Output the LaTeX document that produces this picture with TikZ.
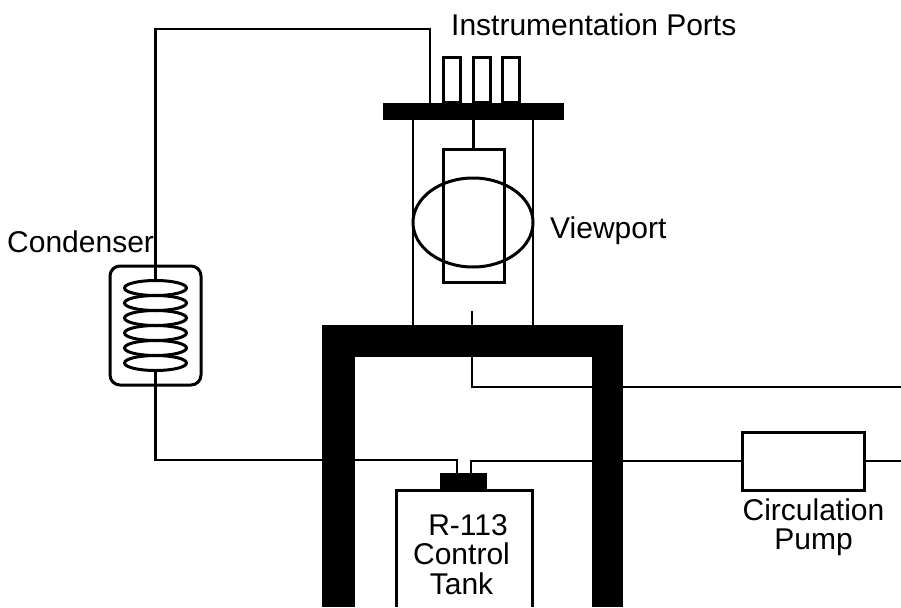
\documentclass[tikz,border=0pt]{standalone}
\usepackage{fontspec}
\setmainfont{Liberation Sans}
\usetikzlibrary{arrows.meta,shapes.geometric}

\tikzset{
  pipe/.style={line width=2.2pt},
  solidbar/.style={fill=black,inner sep=0pt,outer sep=0pt},
  openbox/.style={draw,line width=3pt,inner sep=0pt,outer sep=0pt},
  coil/.style={ellipse,draw,line width=3pt,inner sep=0pt,outer sep=0pt,
    minimum width=62pt,minimum height=15pt},
  caption/.style={font=\fontsize{30}{29.5}\selectfont,align=center,inner sep=0pt}
}

\begin{document}
\begin{tikzpicture}[x=1pt,y=-1pt]
  \useasboundingbox (0,0) rectangle (901,607);

  % hood round the tank
  \node[solidbar,minimum width=301pt,minimum height=32pt] (hood) at (472.5,341) {};
  \node[solidbar,minimum width=33pt,minimum height=250pt] (hoodleft) at (338.5,482) {};
  \node[solidbar,minimum width=31pt,minimum height=250pt] (hoodright) at (607.5,482) {};

  % tank, open at the lower edge
  \coordinate (tankleft) at (396,607);
  \coordinate (tankright) at (532,607);
  \node[solidbar,minimum width=47pt,minimum height=17pt] (tankcap) at (463.5,481.5) {};
  \draw[line width=3pt] (tankleft) |- (tankcap.south) -| (tankright);

  % test section
  \node[solidbar,minimum width=181pt,minimum height=17pt] (plate) at (473.5,111.5) {};
  \draw[pipe] (plate.south -| tankleft) ++(17,0) coordinate (wallleft) -- (wallleft |- hood.north);
  \draw[pipe] (plate.south -| tankright) ++(1,0) coordinate (wallright) -- (wallright |- hood.north);
  \node[openbox,minimum width=61pt,minimum height=133pt] (heater) at (473.5,215.5) {};
  \node[ellipse,draw,line width=3pt,inner sep=0pt,outer sep=0pt,
    minimum width=120pt,minimum height=89pt] (window) at (473,222.5) {};
  \draw[pipe] (plate.south -| heater.north) -- (heater.north);

  % instrumentation ports
  \foreach \port/\portx in {a/451.5,b/481.5,c/511}
    \node[openbox,minimum width=17pt,minimum height=45pt,anchor=south] (port\port) at (\portx,103) {};

  % condenser
  \node[draw,line width=3pt,rounded corners=10pt,inner sep=0pt,outer sep=0pt,
    minimum width=91pt,minimum height=119pt] (condenser) at (155.5,325.5) {};
  \foreach \n/\coily in {1/288,2/303,3/318,4/333,5/348,6/363}
    \node[coil] (coil\n) at (155.5,\coily) {};

  % pipes
  \coordinate (ventcorner) at (430,29);
  \coordinate (feedcorner) at (155,460);
  \coordinate (tapcorner) at (472,387);
  \coordinate (stubtop) at (472,311);
  \coordinate (feedin) at (457,460);
  \coordinate (feedout) at (471,461);
  \coordinate (rightedge) at (901,461);
  \coordinate (tapedge) at (901,387);
  \draw[pipe] (plate.north -| ventcorner) -- (ventcorner) -| (coil1.north);
  \draw[pipe] (coil6.south) -- (coil6.south |- feedcorner) -- (hoodleft.west |- feedcorner);
  \draw[pipe] (hoodleft.east |- feedin) -- (feedin) -- (feedin |- tankcap.north);
  \draw[pipe] (feedout |- tankcap.north) -- (feedout) -- (hoodright.west |- feedout);
  \draw[pipe] (stubtop) -- (stubtop |- hood.north);
  \draw[pipe] (tapcorner |- hood.south) -- (tapcorner) -- (tapedge);

  % pump
  \node[openbox,minimum width=122pt,minimum height=58pt] (pump) at (803,461) {};
  \draw[pipe] (hoodright.east |- pump.west) -- (pump.west);
  \draw[pipe] (pump.east) -- (rightedge);

  % labels
  \node[caption,anchor=base west] (portslabel) at (451,36) {Instrumentation Ports};
  \node[caption,anchor=base west] (viewlabel) at (550,238) {Viewport};
  \node[caption,anchor=base west] (condlabel) at (7,252) {Condenser};
  \node[caption,anchor=base] (pumplabel) at (813.5,549.5) {Circulation\\Pump};
  \node[caption,anchor=base] (tanklabel) at (461.5,594) {\hspace*{13pt}R-113\\Control\\Tank};
\end{tikzpicture}
\end{document}
